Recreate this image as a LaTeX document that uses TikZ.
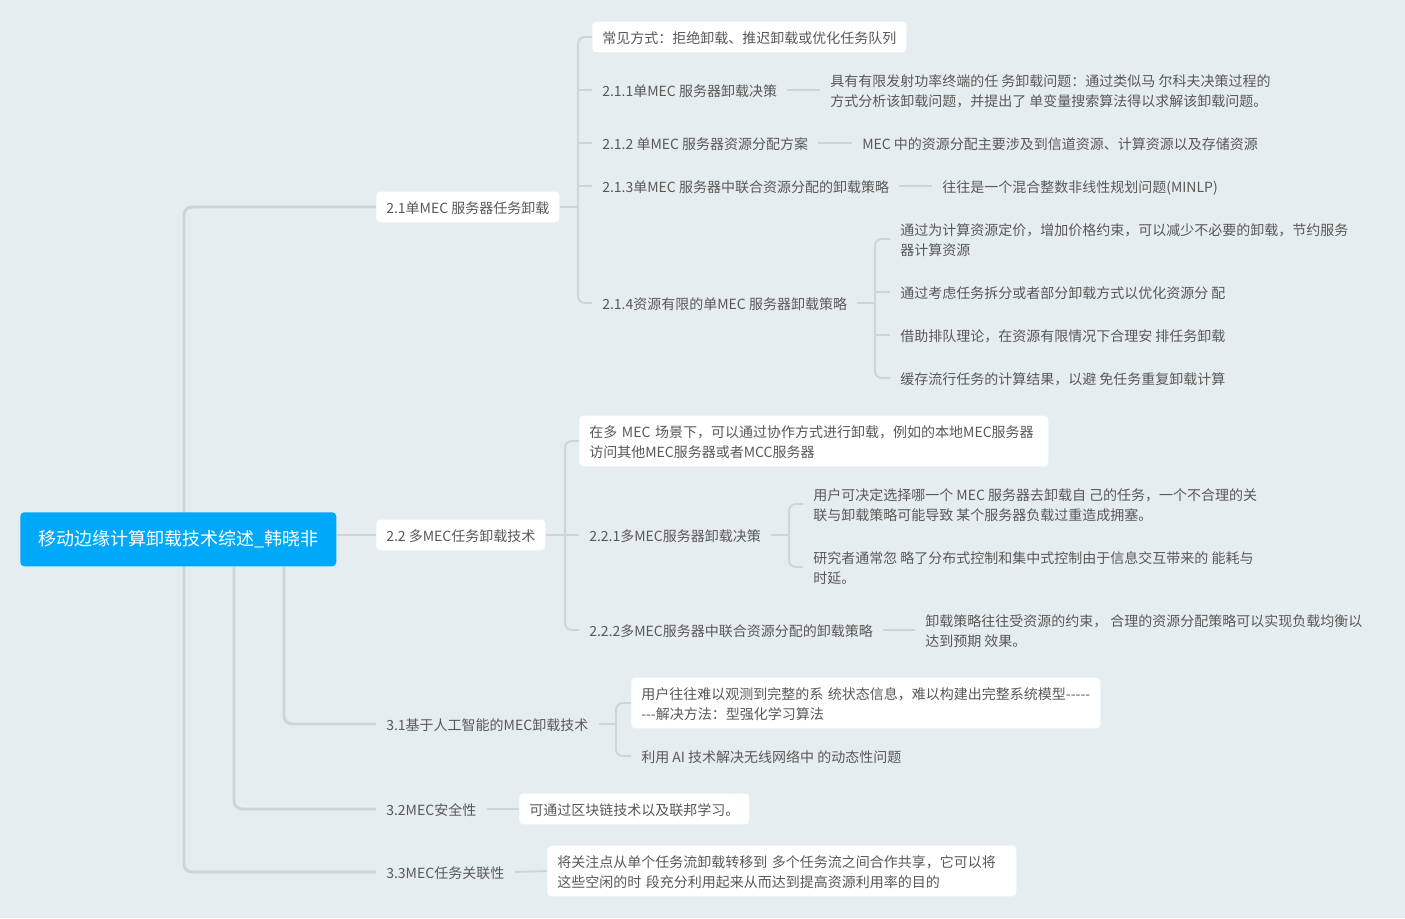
\documentclass[tikz,border=0pt]{standalone}
\usepackage{fontspec}
\setmainfont{Noto Sans CJK SC}
\usetikzlibrary{backgrounds,calc}
\definecolor{bgc}{RGB}{230,237,241}
\definecolor{linec}{RGB}{206,213,217}
\definecolor{txtc}{RGB}{88,88,88}
\definecolor{rootc}{RGB}{0,168,250}
\newcommand\hy{\mbox{-}}
\begin{document}
\begin{tikzpicture}[x=0.75pt,y=-0.75pt,
 every node/.style={font=\fontsize{10.5}{15}\selectfont, text=txtc, inner xsep=7.5pt, inner ysep=6pt, text height=10.5pt, text depth=0.5pt, align=left, anchor=west},
 two/.style={text height=25.5pt, text depth=0.5pt},
 twob/.style={text height=10.5pt, text depth=15.5pt, text width=336.75pt},
 wbox/.style={fill=white, rounded corners=3pt},
 rootbox/.style={fill=rootc, text=white, rounded corners=3pt, font=\fontsize{13.5}{16}\selectfont, text height=12pt, text depth=2pt, minimum width=237pt, minimum height=40.5pt, anchor=north west, align=center},
 mainline/.style={draw=linec, line width=2.2pt, rounded corners=6pt},
 subline/.style={draw=linec, line width=1.4pt, rounded corners=5pt},
]
\useasboundingbox (0,0) rectangle (1405,918);

% root and first level
\node[rootbox] (root) at (20,512) {移动边缘计算卸载技术综述\_韩晓非};
\node[wbox] (n21) at (376,207) {2.1单MEC 服务器任务卸载};
\node[wbox] (n22) at (376,535) {2.2 多MEC任务卸载技术};
\node (n31) at (376,724) {3.1基于人工智能的MEC卸载技术};
\node (n32) at (376,809) {3.2MEC安全性};
\node (n33) at (376,872) {3.3MEC任务关联性};

% 2.1 subtree
\node[wbox] (c0) at (592,37) {常见方式：拒绝卸载、推迟卸载或优化任务队列};
\node (c1) at (592,90) {2.1.1单MEC 服务器卸载决策};
\node (c2) at (592,143) {2.1.2 单MEC 服务器资源分配方案};
\node (c3) at (592,186) {2.1.3单MEC 服务器中联合资源分配的卸载策略};
\node (c4) at (592,303) {2.1.4资源有限的单MEC 服务器卸载策略};
\node[two] (d1) at (820,90) {具有有限发射功率终端的任 务卸载问题：通过类似马 尔科夫决策过程的\\方式分析该卸载问题，并提出了 单变量搜索算法得以求解该卸载问题。};
\node (d2) at (852,143) {MEC 中的资源分配主要涉及到信道资源、计算资源以及存储资源};
\node (d3) at (932,186) {往往是一个混合整数非线性规划问题(MINLP)};
\node[two] (e1) at (890,239) {通过为计算资源定价，增加价格约束，可以减少不必要的卸载，节约服务\\器计算资源};
\node (e2) at (890,292) {通过考虑任务拆分或者部分卸载方式以优化资源分 配};
\node (e3) at (890,335) {借助排队理论，在资源有限情况下合理安 排任务卸载};
\node (e4) at (890,378) {缓存流行任务的计算结果，以避 免任务重复卸载计算};

% 2.2 subtree
\node[wbox, twob] (f0) at (579,441) {在多 MEC 场景下，可以通过协作方式进行卸载，例如的本地MEC服务器\\访问其他MEC服务器或者MCC服务器};
\node (f1) at (579,535) {2.2.1多MEC服务器卸载决策};
\node (f2) at (579,630) {2.2.2多MEC服务器中联合资源分配的卸载策略};
\node[two] (g1) at (803,504) {用户可决定选择哪一个 MEC 服务器去卸载自 己的任务，一个不合理的关\\联与卸载策略可能导致 某个服务器负载过重造成拥塞。};
\node[two] (g2) at (803,567) {研究者通常忽 略了分布式控制和集中式控制由于信息交互带来的 能耗与\\时延。};
\node[two] (g3) at (915,630) {卸载策略往往受资源的约束， 合理的资源分配策略可以实现负载均衡以\\达到预期 效果。};

% 3.x subtrees
\node[wbox, twob] (h1) at (631,703) {用户往往难以观测到完整的系 统状态信息，难以构建出完整系统模型\hy\hy\hy\hy\hy\\\hy\hy\hy 解决方法：型强化学习算法};
\node (h2) at (631,756) {利用 AI 技术解决无线网络中 的动态性问题};
\node[wbox] (k1) at (519,809) {可通过区块链技术以及联邦学习。};
\node[wbox, twob] (m1) at (547,871) {将关注点从单个任务流卸载转移到 多个任务流之间合作共享，它可以将\\这些空闲的时 段充分利用起来从而达到提高资源利用率的目的};

\coordinate (x184) at (184,0);
\coordinate (x234) at (234,0);
\coordinate (x284) at (284,0);
\coordinate (b1) at (578,0);
\coordinate (b2) at (875,0);
\coordinate (b3) at (565,0);
\coordinate (b4) at (789,0);
\coordinate (b5) at (616,0);

\begin{pgfonlayer}{background}
\fill[bgc] (0,0) rectangle (1405,918);
% main connectors
\draw[mainline] (n21.west) -| (x184 |- n33.west) -- (n33.west);
\draw[mainline] (x234 |- root.south) |- (n32.west);
\draw[mainline] (x284 |- root.south) |- (n31.west);
\draw[mainline] (root.east |- n22.west) -- (n22.west);
% 2.1
\draw[subline] (n21.east) -- (b1 |- n21.east);
\draw[subline] (c0.west) -| (b1 |- c4.west) -- (c4.west);
\foreach \n in {c1,c2,c3} \draw[subline] (b1 |- \n.west) -- (\n.west);
\draw[subline] (c1.east) -- (d1.west);
\draw[subline] (c2.east) -- (d2.west);
\draw[subline] (c3.east) -- (d3.west);
\draw[subline] (c4.east) -- (b2 |- c4.east);
\draw[subline] (e1.west) -| (b2 |- e4.west) -- (e4.west);
\foreach \n in {e2,e3} \draw[subline] (b2 |- \n.west) -- (\n.west);
% 2.2
\draw[subline] (n22.east) -- (b3 |- n22.east);
\draw[subline] (f0.west) -| (b3 |- f2.west) -- (f2.west);
\draw[subline] (b3 |- f1.west) -- (f1.west);
\draw[subline] (f1.east) -- (b4 |- f1.east);
\draw[subline] (g1.west) -| (b4 |- g2.west) -- (g2.west);
\draw[subline] (f2.east) -- (g3.west);
% 3.x
\draw[subline] (n31.east) -- (b5 |- n31.east);
\draw[subline] (h1.west) -| (b5 |- h2.west) -- (h2.west);
\draw[subline] (n32.east) -- (k1.west);
\draw[subline] (n33.east) -- (m1.west);
\end{pgfonlayer}
\end{tikzpicture}
\end{document}
